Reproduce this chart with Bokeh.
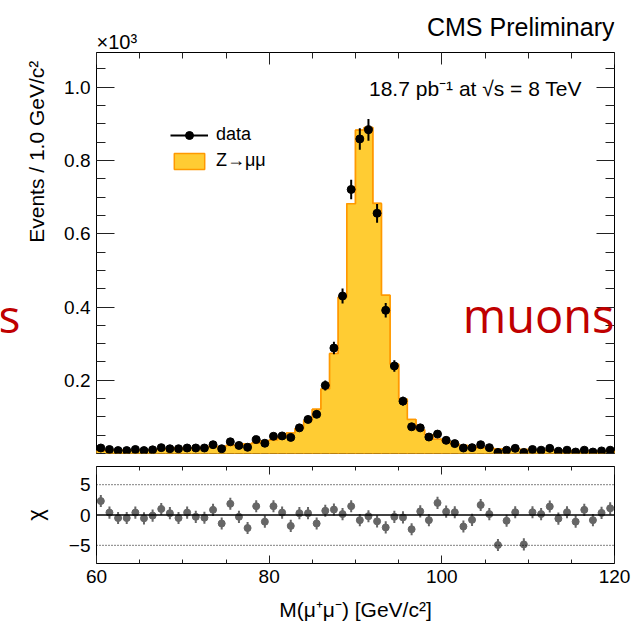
import numpy as np
from bokeh.plotting import figure
from bokeh.layouts import column, row
from bokeh.models import (ColumnDataSource, Range1d, FixedTicker, LinearAxis, Span,
                          Label, Legend, LegendItem, NumeralTickFormatter)
from bokeh.embed import file_html
from bokeh.resources import INLINE

# ---------------- data ----------------
bin_edges = list(range(60, 121))            # 1 GeV bins, 60..120
data_counts = [15, 11, 8, 8, 11, 8, 10, 16, 13, 13,
               15, 15, 15, 24, 13, 32, 22, 17, 38, 28,
               47, 48, 44, 70, 93, 107, 186, 288, 430, 721,
               859, 884, 656, 391, 239, 143, 73, 70, 45, 53,
               36, 27, 15, 16, 24, 16, 3, 9, 14, 3,
               11, 9, 14, 6, 9, 4, 9, 4, 7, 9]
mc_counts = [7, 10, 9, 9, 10, 10, 10, 12, 12, 15,
             13, 16, 17, 20, 18, 22, 23, 26, 29, 34,
             37, 45, 56, 68, 90, 121, 176, 273, 427, 682,
             883, 890, 683, 432, 244, 148, 93, 65, 51, 39,
             33, 25, 22, 19, 15, 15, 12, 12, 12, 11,
             10, 9, 9, 8, 8, 6, 7, 6, 6, 6]
chi_values = [2.3, 0.4, -0.5, -0.5, 0.4, -0.55, -0.1, 1.0, 0.3, -0.5,
              0.4, -0.3, -0.45, 0.85, -1.4, 1.85, -0.3, -2.15, 1.45, -1.1,
              1.45, 0.4, -1.8, 0.3, 0.3, -1.4, 0.7, 0.9, 0.15, 1.45,
              -0.85, -0.2, -1.05, -2.05, -0.3, -0.4, -2.35, 0.6, -0.85, 2.0,
              0.55, 0.45, -1.9, -0.8, 1.65, 0.15, -4.95, -0.95, 0.45, -4.85,
              0.45, 0.15, 1.4, -0.6, 0.45, -1.1, 0.85, -0.85, 0.35, 1.1]

x_tick_values = [60, 80, 100, 120]
x_minor_values = list(range(60, 121, 5))
y_tick_values = [0.2, 0.4, 0.6, 0.8, 1.0]
y_minor_values = [round(0.05 * k, 2) for k in range(0, 22)]
chi_tick_values = [-5, 0, 5]

FONT = "Liberation Sans"
FILL = "#ffcc33"
EDGE = "#ff9900"
RED = "#c00000"

edges = np.array(bin_edges, dtype=float)
centers = 0.5 * (edges[:-1] + edges[1:])
d = np.array(data_counts, dtype=float)
mc = np.array(mc_counts, dtype=float)
scale = 1000.0

TOP_H = 52
RATIO_H = 163
MAIN_H = 623 - TOP_H - RATIO_H   # 408
LEFT_W = 50

x_range = Range1d(60, 120)
y_range = Range1d(0, 1.095)


def blank(w, h, xr, yr):
    f = figure(width=w, height=h, x_range=xr, y_range=yr,
               output_backend="svg", toolbar_location=None, title_location=None,
               min_border_left=0, min_border_right=0, min_border_top=0, min_border_bottom=0,
               x_axis_location=None, y_axis_location=None)
    f.grid.visible = False
    f.outline_line_color = None
    return f


# ---------------- top strip (texts above the frame) ----------------
top = blank(638, TOP_H, x_range, Range1d(0, TOP_H))
top.add_layout(Label(x=120, y=TOP_H - 26, text="CMS Preliminary", text_align="right",
                     text_baseline="middle", text_font=FONT, text_font_size="25px",
                     text_color="black"))
top.add_layout(Label(x=60, y=TOP_H - 41, text="×10³", text_align="left",
                     text_baseline="middle", text_font=FONT, text_font_size="20px",
                     text_color="black"))

# ---------------- left strip (y title, cut-off word) ----------------
left = blank(LEFT_W, MAIN_H, Range1d(0, LEFT_W), y_range)
left.add_layout(Label(x=-2, y=0.377, text="s", text_align="left",
                      text_baseline="middle", text_font="Open Sans", text_font_size="46px",
                      text_color=RED))
left.add_layout(Label(x=35.5, y=0.824, text="Events / 1.0 GeV/c²", angle=np.pi / 2,
                      text_align="center", text_baseline="middle", text_font=FONT,
                      text_font_size="21px", text_color="black"))

# ---------------- main panel ----------------
p = figure(width=638 - LEFT_W, height=MAIN_H, x_range=x_range, y_range=y_range,
           output_backend="svg", toolbar_location=None,
           min_border_left=96 - LEFT_W, min_border_right=24, min_border_top=0, min_border_bottom=7,
           x_axis_location=None, y_axis_location=None)
p.grid.visible = False
p.outline_line_color = "black"
p.outline_line_width = 1

mc_ext = np.append(mc, mc[-1]) / scale
hsrc = ColumnDataSource(dict(left=edges[:-1], right=edges[1:], top=mc / scale))
hq = p.quad(left="left", right="right", top="top", bottom=0, source=hsrc,
            fill_color=FILL, line_color=EDGE, line_width=1.5)
p.varea_step(x=edges, y1=np.zeros_like(edges), y2=mc_ext, step_mode="after",
             fill_color=FILL)
p.step(x=edges, y=mc_ext, mode="after", line_color=EDGE, line_width=1.6)

src = ColumnDataSource(dict(x=centers, y=d / scale,
                            lo=(d - np.sqrt(d)) / scale, hi=(d + np.sqrt(d)) / scale))
seg = p.segment(x0="x", y0="lo", x1="x", y1="hi", source=src, line_color="black", line_width=2)
pts = p.scatter(x="x", y="y", source=src, size=8, color="black")


def inner_axis(ticks, minor, major_len, minor_len, labels=False):
    ax = LinearAxis(ticker=FixedTicker(ticks=ticks, minor_ticks=minor))
    ax.axis_line_color = None
    ax.major_tick_in = major_len
    ax.major_tick_out = 0
    ax.minor_tick_in = minor_len
    ax.minor_tick_out = 0
    ax.major_tick_line_color = "#222222"
    ax.minor_tick_line_color = "#222222"
    if not labels:
        ax.major_label_text_font_size = "0px"
        ax.major_label_standoff = 0
    return ax


yl = inner_axis(y_tick_values, y_minor_values, 18, 9, labels=True)
yl.formatter = NumeralTickFormatter(format="0.0")
yl.major_label_text_font = FONT
yl.major_label_text_font_size = "19px"
yl.major_label_text_color = "black"
yl.major_label_standoff = 6
p.add_layout(yl, "left")
p.add_layout(inner_axis(y_tick_values, y_minor_values, 18, 9), "right")
p.add_layout(inner_axis(x_tick_values, x_minor_values, 12, 6), "above")

legend = Legend(items=[LegendItem(label="data", renderers=[seg, pts]),
                       LegendItem(label="Z→μμ", renderers=[hq])],
                location=(74, 282))
legend.border_line_color = None
legend.background_fill_alpha = 0
legend.padding = 0
legend.margin = 0
legend.spacing = 5
legend.glyph_width = 38
legend.glyph_height = 20
legend.label_standoff = 8
legend.label_text_font = FONT
legend.label_text_font_size = "18px"
legend.label_text_color = "black"
p.add_layout(legend, "center")

p.add_layout(Label(x=116.9, y=0.996, text="18.7 pb⁻¹  at √s = 8 TeV", text_align="right",
                   text_baseline="middle", text_font=FONT, text_font_size="21px",
                   text_color="black"))
p.add_layout(Label(x=120, y=0.377, text="muons", text_align="right", text_baseline="middle",
                   text_font="Open Sans", text_font_size="47px", text_color=RED))

# ---------------- ratio panel ----------------
r = figure(width=638, height=RATIO_H, x_range=x_range, y_range=Range1d(-8, 8),
           output_backend="svg", toolbar_location=None,
           min_border_left=96, min_border_right=24, min_border_top=6, min_border_bottom=60,
           x_axis_location=None, y_axis_location=None)
r.grid.visible = False
r.outline_line_color = "black"
r.outline_line_width = 1

r.add_layout(Span(location=5, dimension="width", line_color="black", line_dash="1 2", line_width=1))
r.add_layout(Span(location=-5, dimension="width", line_color="black", line_dash="1 2", line_width=1))
r.add_layout(Span(location=0, dimension="width", line_color="black", line_width=1.6))

chi = np.array(chi_values)
rsrc = ColumnDataSource(dict(x=centers, y=chi, lo=chi - 1, hi=chi + 1))
r.segment(x0="x", y0="lo", x1="x", y1="hi", source=rsrc, line_color="#666666", line_width=2)
r.scatter(x="x", y="y", source=rsrc, size=7, color="#666666")

xb = inner_axis(x_tick_values, x_minor_values, 8, 4, labels=True)
xb.major_label_text_font = FONT
xb.major_label_text_font_size = "19px"
xb.major_label_text_color = "black"
xb.major_label_standoff = 6
xb.axis_label = "M(μ⁺μ⁻) [GeV/c²]"
xb.axis_label_text_font = FONT
xb.axis_label_text_font_style = "normal"
xb.axis_label_text_font_size = "21px"
xb.axis_label_text_color = "black"
xb.axis_label_standoff = 12
r.add_layout(xb, "below")
r.add_layout(inner_axis(x_tick_values, x_minor_values, 8, 4), "above")

yr = inner_axis(chi_tick_values, [], 0, 0, labels=True)
yr.major_label_text_font = FONT
yr.major_label_text_font_size = "19px"
yr.major_label_text_color = "black"
yr.major_label_standoff = 6
yr.axis_label = "χ"
yr.axis_label_text_font = FONT
yr.axis_label_text_font_style = "normal"
yr.axis_label_text_font_size = "22px"
yr.axis_label_text_color = "black"
yr.axis_label_standoff = 18
r.add_layout(yr, "left")

layout = column(top, row(left, p, spacing=0), r, spacing=0)
open("out.html", "w").write(file_html(layout, INLINE))
